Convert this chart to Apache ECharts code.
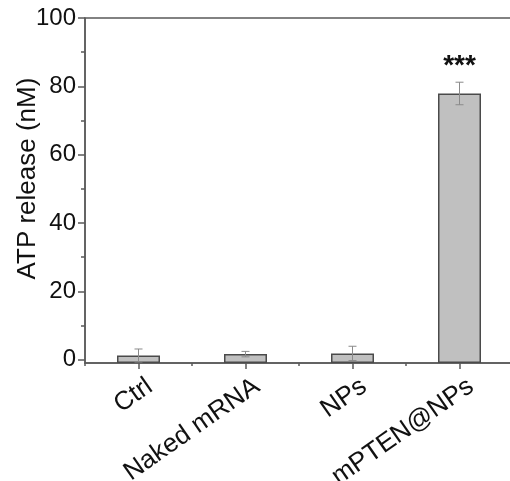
<!DOCTYPE html>
<html>
<head>
<meta charset="utf-8">
<script src="https://cdn.jsdelivr.net/npm/echarts@6/dist/echarts.min.js"></script>
<style>html,body{margin:0;padding:0;background:#fff;}#c{width:510px;height:481px;}</style>
</head>
<body>
<div id="c"></div>
<script>
const categories = ['Ctrl', 'Naked mRNA', 'NPs', 'mPTEN@NPs'];
const values = [1.2, 1.6, 1.8, 77.9];
const errors = [1.9, 0.8, 2.1, 3.3];
const significance = ['', '', '', '***'];
const yTicks = [0, 20, 40, 60, 80, 100];
const yMinorTicks = [10, 30, 50, 70, 90];

const axisColor = '#5a5a5a';
const font = 'Liberation Sans, Arial, sans-serif';

const errData = categories.map((c, i) => [i, values[i] - errors[i], values[i] + errors[i], significance[i]]);

const chart = echarts.init(document.getElementById('c'), null, {renderer: 'canvas'});
chart.setOption({
  animation: false,
  backgroundColor: '#fff',
  grid: {left: 85, right: -3, top: 18, bottom: 118, containLabel: false, outerBoundsMode: 'none', show: true, borderColor: axisColor, borderWidth: 1.5, backgroundColor: 'transparent'},
  xAxis: [{
    type: 'category',
    data: categories,
    position: 'bottom',
    axisLine: {show: true, onZero: false, lineStyle: {color: axisColor, width: 1.5}},
    axisTick: {show: true, alignWithLabel: true, length: 6, lineStyle: {color: axisColor, width: 1.5}},
    axisLabel: {rotate: 35, margin: 29, fontSize: 26, color: '#111', fontFamily: font, padding: [0, -14, 0, 0]},
    splitLine: {show: false}
  }, {
    type: 'category',
    data: categories,
    position: 'bottom',
    axisLine: {show: false, onZero: false},
    axisTick: {show: true, length: 3, lineStyle: {color: axisColor, width: 1.5}},
    axisLabel: {show: false},
    splitLine: {show: false}
  }],
  yAxis: [{
    type: 'value',
    min: -1, max: 100,
    startValue: -1,
    name: 'ATP release (nM)',
    nameLocation: 'middle',
    nameGap: 44,
    nameMoveOverlap: false,
    nameTextStyle: {fontSize: 26, color: '#111', fontFamily: font, padding: [0, 0, 0, 24]},
    axisLine: {show: true, lineStyle: {color: axisColor, width: 1.5}},
    axisTick: {show: true, length: 7, customValues: yTicks, lineStyle: {color: axisColor, width: 1.5}},
    axisLabel: {fontSize: 24, color: '#111', fontFamily: font, margin: 9, customValues: yTicks},
    splitLine: {show: false}
  }, {
    type: 'value',
    min: -1, max: 100,
    position: 'left',
    axisLine: {show: false},
    axisTick: {show: true, length: 4, customValues: yMinorTicks, lineStyle: {color: axisColor, width: 1.5}},
    axisLabel: {show: false},
    splitLine: {show: false}
  }],
  series: [{
    type: 'bar',
    data: values,
    barWidth: 43,
    itemStyle: {color: '#c0c0c0', borderColor: '#4a4a4a', borderWidth: 1.5}
  }, {
    type: 'custom',
    data: errData,
    z: 5,
    renderItem: function (params, api) {
      const i = api.value(0);
      const lo = api.coord([i, api.value(1)]);
      const hi = api.coord([i, api.value(2)]);
      const hw = 4;
      const st = {stroke: '#8a8a8a', lineWidth: 1};
      const children = [
        {type: 'line', shape: {x1: lo[0], y1: lo[1], x2: hi[0], y2: hi[1]}, style: st},
        {type: 'line', shape: {x1: hi[0] - hw, y1: hi[1], x2: hi[0] + hw, y2: hi[1]}, style: st},
        {type: 'line', shape: {x1: lo[0] - hw, y1: lo[1], x2: lo[0] + hw, y2: lo[1]}, style: st}
      ];
      const mark = significance[params.dataIndex];
      if (mark) {
        children.push({type: 'text', x: hi[0], y: hi[1] - 16, style: {text: mark, fontSize: 28, fontWeight: 'bold', fill: '#111', fontFamily: font, align: 'center', verticalAlign: 'middle'}});
      }
      return {type: 'group', children: children};
    }
  }]
});
</script>
</body>
</html>
